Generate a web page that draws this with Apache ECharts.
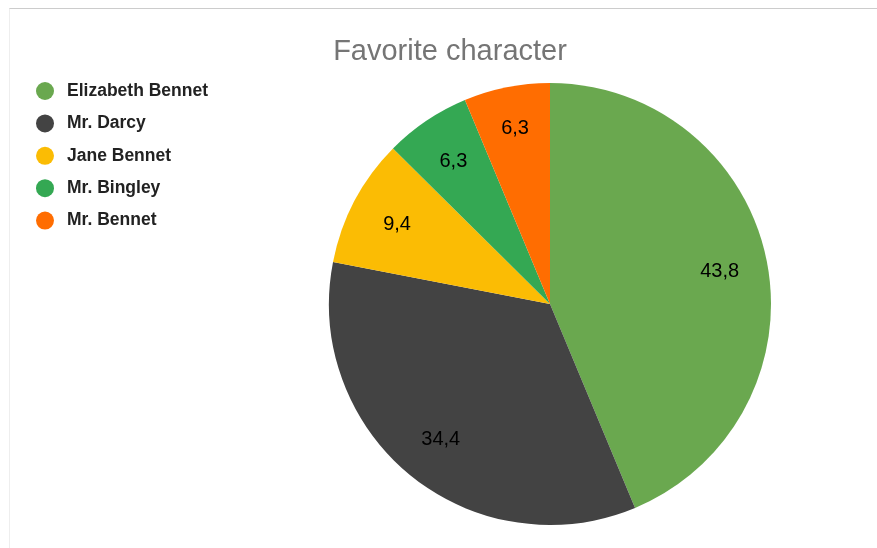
<!DOCTYPE html>
<html>
<head>
<meta charset="utf-8">
<script src="https://cdn.jsdelivr.net/npm/echarts@6/dist/echarts.min.js"></script>
<style>
  html, body { margin: 0; padding: 0; background: #fff; }
  #frame { position: absolute; left: 9px; top: 8px; width: 868px; height: 540px;
           border-top: 1px solid #cccccc; border-left: 1px solid #eeeeee; }
  #chart { position: absolute; left: 0; top: 0; width: 877px; height: 548px; }
</style>
</head>
<body>
<div id="frame"></div>
<div id="chart"></div>
<script>
// Favorite character survey results (percent)
const characters = ['Elizabeth Bennet', 'Mr. Darcy', 'Jane Bennet', 'Mr. Bingley', 'Mr. Bennet'];
const shares = [43.8, 34.4, 9.4, 6.3, 6.3];
const colors = ['#6aa84f', '#434343', '#fbbc04', '#34a853', '#ff6d01'];

const pieData = characters.map((name, i) => ({
  name,
  value: shares[i],
  itemStyle: { color: colors[i] }
}));

const fmt = p => String(p.value).replace('.', ',');

// value labels; the narrow last slice gets its label nudged outward
const labelData = characters.map((name, i) => {
  const d = { name: name + ' ', value: shares[i] };
  if (i === characters.length - 1) d.label = { offset: [-1, -7] };
  return d;
});

const chart = echarts.init(document.getElementById('chart'), null, { renderer: 'canvas' });
chart.setOption({
  animation: false,
  title: {
    text: 'Favorite character',
    left: 450,
    top: 37,
    padding: 0,
    textAlign: 'center',
    textStyle: { fontFamily: 'Liberation Sans, Arial, sans-serif', fontSize: 29, fontWeight: 'normal', color: '#757575' }
  },
  legend: {
    orient: 'vertical',
    left: 36,
    top: 82,
    padding: 0,
    icon: 'circle',
    itemWidth: 18,
    itemHeight: 18,
    itemGap: 14.4,
    data: characters,
    textStyle: { fontFamily: 'Liberation Sans, Arial, sans-serif', fontSize: 17.5, fontWeight: 'bold', color: '#222222', padding: [0, 0, 0, 8] }
  },
  series: [
    {
      type: 'pie',
      center: [550, 304],
      radius: [0, 221],
      startAngle: 90,
      clockwise: true,
      silent: true,
      label: { show: false },
      labelLine: { show: false },
      data: pieData
    },
    {
      // transparent ring that carries the value labels at ~77% of the radius
      type: 'pie',
      center: [550, 305],
      radius: [119, 221],
      startAngle: 90,
      clockwise: true,
      silent: true,
      legendHoverLink: false,
      itemStyle: { color: 'rgba(0,0,0,0)' },
      label: {
        show: true,
        position: 'inside',
        formatter: fmt,
        fontFamily: 'Liberation Sans, Arial, sans-serif',
        fontSize: 20,
        color: '#000000'
      },
      labelLine: { show: false },
      data: labelData
    }
  ]
});
</script>
</body>
</html>
